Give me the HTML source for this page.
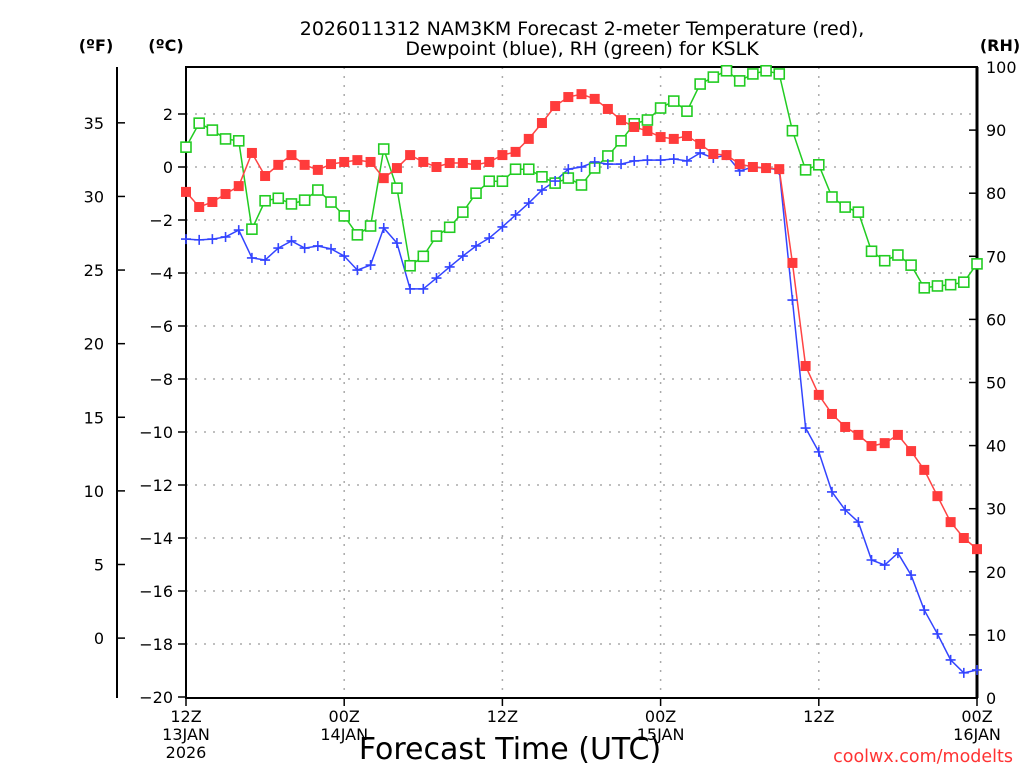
<!DOCTYPE html>
<html><head><meta charset="utf-8"><style>
body{margin:0;background:#fff;}
svg{display:block;font-family:"DejaVu Sans","Liberation Sans",sans-serif;}
</style></head><body>
<svg id="chart" width="1024" height="768" viewBox="0 0 1024 768">
<g id="grid"></g>
<g id="axes"></g>
<g id="series"></g>
<text x="582" y="35" text-anchor="middle" font-size="19">2026011312 NAM3KM Forecast 2-meter Temperature (red),</text>
<text x="582" y="55" text-anchor="middle" font-size="19">Dewpoint (blue), RH (green) for KSLK</text>
<text x="96" y="51" text-anchor="middle" font-size="16" font-weight="bold">(ºF)</text>
<text x="166" y="51" text-anchor="middle" font-size="16" font-weight="bold">(ºC)</text>
<text x="1000" y="51" text-anchor="middle" font-size="16" font-weight="bold">(RH)</text>
<text x="510" y="759" text-anchor="middle" font-size="30">Forecast Time (UTC)</text>
<text x="1013" y="762" text-anchor="end" font-size="17.5" fill="#ff3333">coolwx.com/modelts</text>
</svg>
<script>
const hours=[0,1,2,3,4,5,6,7,8,9,10,11,12,13,14,15,16,17,18,19,20,21,22,23,24,25,26,27,28,29,30,31,32,33,34,35,36,37,38,39,40,41,42,43,44,45,46,47,48,49,50,51,52,53,54,55,56,57,58,59,60];
const tempC=[-0.94,-1.51,-1.32,-1.02,-0.72,0.53,-0.34,0.08,0.45,0.08,-0.11,0.11,0.19,0.26,0.19,-0.42,-0.04,0.45,0.19,0,0.15,0.15,0.08,0.19,0.45,0.57,1.06,1.66,2.30,2.64,2.75,2.57,2.19,1.77,1.51,1.36,1.13,1.06,1.17,0.87,0.49,0.45,0.11,0,-0.04,-0.08,-3.62,-7.51,-8.60,-9.32,-9.81,-10.11,-10.53,-10.42,-10.11,-10.72,-11.43,-12.42,-13.40,-14.00,-14.42];
const dewC=[-2.72,-2.75,-2.72,-2.64,-2.38,-3.43,-3.51,-3.06,-2.79,-3.06,-2.98,-3.09,-3.36,-3.89,-3.70,-2.30,-2.87,-4.60,-4.60,-4.19,-3.77,-3.36,-2.98,-2.68,-2.26,-1.81,-1.36,-0.87,-0.53,-0.08,0,0.19,0.11,0.11,0.23,0.26,0.26,0.30,0.23,0.53,0.34,0.45,-0.15,0,-0.04,-0.11,-5.02,-9.85,-10.75,-12.26,-12.94,-13.40,-14.83,-15.02,-14.57,-15.40,-16.72,-17.62,-18.60,-19.09,-18.98];
const rh=[87.3,91.1,90.0,88.6,88.3,74.3,78.8,79.2,78.3,78.9,80.5,78.6,76.4,73.4,74.8,87.0,80.8,68.5,70.0,73.2,74.6,77.0,80.0,81.9,81.9,83.8,83.8,82.6,81.6,82.4,81.3,84.0,85.9,88.3,91.0,91.6,93.5,94.6,93.0,97.3,98.4,99.4,97.8,98.9,99.4,98.9,89.9,83.7,84.5,79.4,77.8,77.0,70.8,69.3,70.2,68.6,65.0,65.3,65.5,65.9,68.8];
const cTicks=[2,0,-2,-4,-6,-8,-10,-12,-14,-16,-18,-20];
const fTicks=[35,30,25,20,15,10,5,0];
const rhTicks=[100,90,80,70,60,50,40,30,20,10,0];
const xTickHours=[0,12,24,36,48,60];
const xTickLabels=[["12Z","13JAN","2026"],["00Z","14JAN"],["12Z"],["00Z","15JAN"],["12Z"],["00Z","16JAN"]];

const L=186,R=977,T=67,B=698;
const x=h=>L+(R-L)*h/60;
const yC=c=>167-26.5*c;
const yF=f=>yC((f-32)*5/9);
const yRH=r=>B-(B-T)*r/100;
const NS="http://www.w3.org/2000/svg";
function mk(tag,attrs,parent,txt){const e=document.createElementNS(NS,tag);for(const k in attrs)e.setAttribute(k,attrs[k]);if(txt!==undefined)e.textContent=txt;parent.appendChild(e);return e;}
const grid=document.getElementById('grid'),axes=document.getElementById('axes'),ser=document.getElementById('series');
const dot={stroke:"#aaa","stroke-width":1.5,"stroke-dasharray":"2,7"};
cTicks.forEach(c=>{if(c<=2&&c>-20){const l=mk('line',Object.assign({x1:L,x2:R,y1:yC(c),y2:yC(c)},dot),grid);

}});
xTickHours.forEach(h=>{if(h>0&&h<60){const l=mk('line',Object.assign({x1:x(h),x2:x(h),y1:T,y2:B},dot),grid);

}});
const fr=mk('rect',{x:L,y:T,width:R-L,height:B-T,fill:"none",stroke:"#000","stroke-width":2},axes);


mk('line',{x1:R,x2:R,y1:T,y2:B,stroke:"#000","stroke-width":3},axes);
const fl=mk('line',{x1:117,x2:117,y1:T,y2:B,stroke:"#000","stroke-width":2},axes);


cTicks.forEach(c=>{mk('line',{x1:L-8,x2:L,y1:yC(c),y2:yC(c),stroke:"#000","stroke-width":1.5},axes);
const t=mk('text',{x:173,y:yC(c)+6,"text-anchor":"end","font-size":16},axes,c<0?"\u2212"+(-c):String(c));

});
fTicks.forEach(f=>{mk('line',{x1:117,x2:125,y1:yF(f),y2:yF(f),stroke:"#000","stroke-width":1.5},axes);
const t=mk('text',{x:104,y:yF(f)+6,"text-anchor":"end","font-size":16},axes,String(f));

});
rhTicks.forEach(r=>{mk('line',{x1:R-8,x2:R,y1:yRH(r),y2:yRH(r),stroke:"#000","stroke-width":1.5},axes);
const t=mk('text',{x:986,y:yRH(r)+6,"text-anchor":"start","font-size":16},axes,String(r));

});
xTickHours.forEach((h,i)=>{mk('line',{x1:x(h),x2:x(h),y1:B,y2:B+8,stroke:"#000","stroke-width":1.5},axes);
xTickLabels[i].forEach((s,j)=>{const t=mk('text',{x:x(h),y:722+j*18,"text-anchor":"middle","font-size":16},axes,s);

});});
function line(vals,yf,col,name){const pts=vals.map((v,i)=>x(hours[i])+","+yf(v)).join(" ");
const p=mk('polyline',{points:pts,fill:"none",stroke:col,"stroke-width":1.5},ser);

}
line(rh,yRH,"#22cc22","rh-line");
line(dewC,yC,"#3344ff","dewpoint-line");
line(tempC,yC,"#ff4444","temperature-line");
rh.forEach((v,i)=>{const r=mk('rect',{x:x(hours[i])-5,y:yRH(v)-5,width:10,height:10,fill:"#fff",stroke:"#22cc22","stroke-width":1.6},ser);

});
dewC.forEach((v,i)=>{const cx=x(hours[i]),cy=yC(v);const p=mk('path',{d:`M${cx-5} ${cy}H${cx+5}M${cx} ${cy-5}V${cy+5}`,stroke:"#3344ff","stroke-width":1.6},ser);

});
tempC.forEach((v,i)=>{const r=mk('rect',{x:x(hours[i])-5,y:yC(v)-5,width:10,height:10,fill:"#ff3b3b"},ser);

});
</script>
</body></html>
